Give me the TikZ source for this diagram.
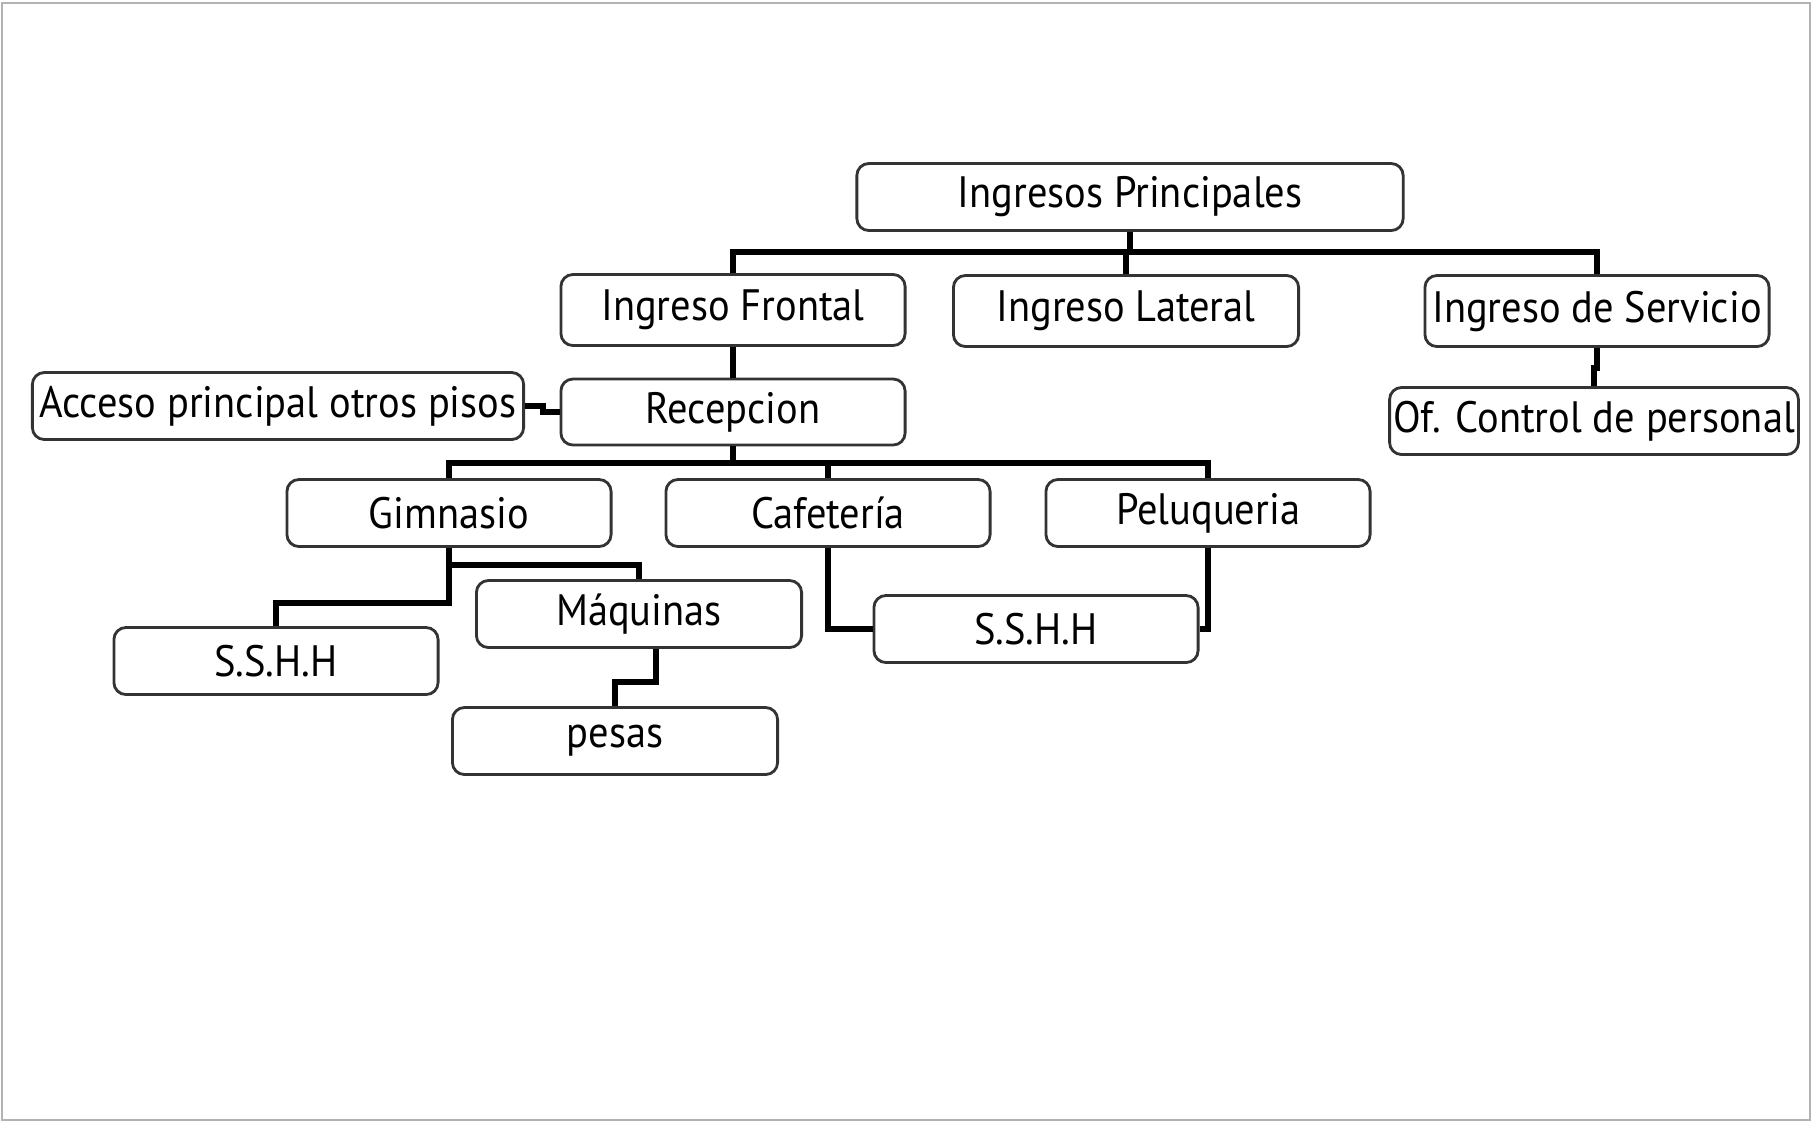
\documentclass[tikz,border=0pt]{standalone}
\usepackage{fontspec}
\setmainfont{PT Sans}[FakeStretch=0.92]
\begin{document}
\begin{tikzpicture}[x=0.01cm,y=-0.01cm,
		caja/.style={draw=black!80,line width=0.8pt,rounded corners=0.12cm,minimum width=3.24cm,minimum height=0.67cm,inner sep=1pt,font=\fontsize{12.5}{14}\selectfont},
		linea/.style={line width=1.6pt,black}]
		\useasboundingbox (0,0) rectangle (1813,1123);
		\draw[black!30,line width=0.6pt] (2,3) rectangle (1810,1120);
		% cajas
		\node[caja,minimum width=5.46cm] (ip) at (1130,197) {Ingresos Principales};
		\node[caja,minimum width=3.44cm,minimum height=0.71cm] (fro) at (733,310) {Ingreso Frontal};
		\node[caja,minimum width=3.45cm,minimum height=0.71cm] (lat) at (1126,311) {Ingreso Lateral};
		\node[caja,minimum width=3.44cm,minimum height=0.71cm] (ser) at (1597,311) {Ingreso de Servicio};
		\node[caja,minimum width=3.44cm,minimum height=0.66cm] (rec) at (733,412) {Recepcion};
		\node[caja,minimum width=4.91cm] (acc) at (278,406) {Acceso principal otros pisos};
		\node[caja,minimum width=4.06cm] (ofc) at (1594,421) {Of. Control de personal};
		\node[caja] (gim) at (449,513) {Gimnasio};
		\node[caja] (caf) at (828,513) {Cafetería};
		\node[caja] (pel) at (1208,513) {Peluqueria};
		\node[caja,minimum width=3.25cm] (maq) at (639,614) {Máquinas};
		\node[caja] (ss1) at (276,661) {S.S.H.H};
		\node[caja] (ss2) at (1036,629) {S.S.H.H};
		\node[caja,minimum width=3.25cm] (pes) at (615,741) {pesas};
		% conectores
		\coordinate (b1) at (1130,252);
		\coordinate (b2) at (733,463);
		\draw[linea] (ip.south) -- (b1);
		\draw[linea] (fro.north) |- (b1) -| (ser.north);
		\draw[linea] (lat.north) -- (lat.north |- b1);
		\draw[linea] (fro.south) -- (rec.north);
		\draw[linea] (ser.south) -- ++(0,20) -| (ofc.north);
		\draw[linea] (acc.east) -- ++(18,0) |- (rec.west);
		\draw[linea] (rec.south) -- (b2);
		\draw[linea] (gim.north) |- (b2) -| (pel.north);
		\draw[linea] (caf.north) -- (caf.north |- b2);
		\draw[linea] (gim.south) -- ++(0,17) -| (maq.north);
		\draw[linea] (gim.south) -- ++(0,55) -| (ss1.north);
		\draw[linea] (caf.south) |- (ss2.west);
		\draw[linea] (pel.south) |- (ss2.east);
		\draw[linea] ([xshift=0.17cm]maq.south) -- ++(0,33) -| (pes.north);
		\end{tikzpicture}
\end{document}
